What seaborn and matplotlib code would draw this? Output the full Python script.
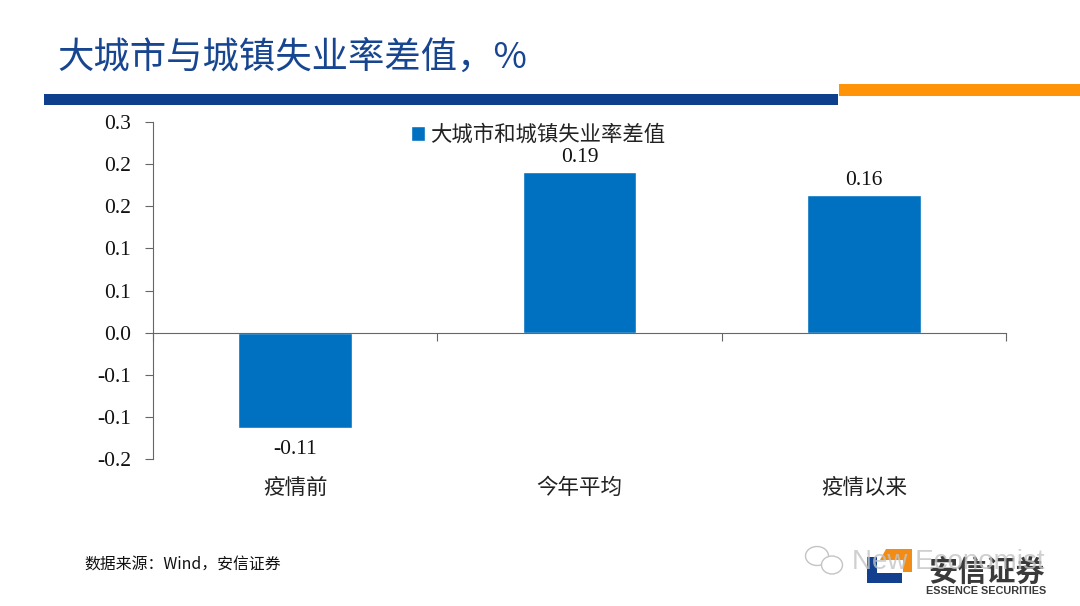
import matplotlib
matplotlib.use('Agg')
import matplotlib.pyplot as plt
from matplotlib.patches import Rectangle, Polygon, Ellipse
import pandas as pd
import seaborn as sns

categories = ['疫情前', '今年平均', '疫情以来']
values = [-0.113, 0.191, 0.163]
value_labels = ['-0.11', '0.19', '0.16']
y_ticks = [-0.15, -0.10, -0.05, 0.0, 0.05, 0.10, 0.15, 0.20, 0.25]
y_tick_labels = ['-0.2', '-0.1', '-0.1', '0.0', '0.1', '0.1', '0.2', '0.2', '0.3']
series_name = '大城市和城镇失业率差值'

sns.set_theme(style='white')
SERIF = ['Liberation Serif', 'Noto Sans CJK SC']
plt.rcParams['font.family'] = SERIF

W, H = 1080, 606
AXIS_COLOR = '#666666'
fig = plt.figure(figsize=(W / 100, H / 100), dpi=100)


def box(x0, y0, x1, y1):
    """Pixel box of the slide (y down) to figure fractions."""
    return [x0 / W, 1 - y1 / H, (x1 - x0) / W, (y1 - y0) / H]


def poly(points, color):
    """Polygon on the figure from slide pixel points."""
    xy = [(x / W, 1 - y / H) for x, y in points]
    fig.patches.append(Polygon(xy, transform=fig.transFigure, color=color, lw=0))


ax = fig.add_axes(box(153, 122, 1006, 459))
df = pd.DataFrame({'cat': categories, 'val': values})
sns.barplot(data=df, x='cat', y='val', color='#0070C0', saturation=1, width=0.4,
            ax=ax, label=series_name)

ax.set_xlim(-0.5, 2.5)
ax.set_ylim(-0.15, 0.25)
ax.set_xlabel('')
ax.set_ylabel('')
ax.set_yticks(y_ticks)
ax.set_yticklabels(y_tick_labels, fontsize=15.5, color='#111111')
ax.tick_params(axis='y', length=6, width=0.8, color=AXIS_COLOR, pad=10, left=True)

# axis runs through zero, ticks sit between the categories
for s in ['top', 'right']:
    ax.spines[s].set_visible(False)
ax.spines['left'].set_color(AXIS_COLOR)
ax.spines['left'].set_linewidth(0.8)
ax.spines['bottom'].set_position(('data', 0))
ax.spines['bottom'].set_color(AXIS_COLOR)
ax.spines['bottom'].set_linewidth(0.8)
ax.set_xticks([-0.5, 0.5, 1.5, 2.5])
ax.set_xticklabels([])
ax.tick_params(axis='x', bottom=True, length=6, width=0.8, color=AXIS_COLOR, direction='out')

for i, cat in enumerate(categories):
    ax.annotate(cat, (i, 0), xycoords=('data', 'axes fraction'), xytext=(0, -28.5),
                textcoords='offset points', ha='center', va='bottom', fontsize=15.5,
                color='#222222', family=['Noto Sans CJK SC'], weight='light')

for i, (v, lab) in enumerate(zip(values, value_labels)):
    off = 3.7 if v > 0 else -9
    ax.annotate(lab, (i, v), xytext=(0, off), textcoords='offset points', ha='center',
                va='bottom' if v > 0 else 'top', fontsize=15.5, color='#111111')

leg = ax.legend(loc='center', bbox_to_anchor=(0.4515, 0.961), frameon=False, fontsize=15.4,
                handlelength=0.65, handleheight=0.65, handletextpad=0.25, borderaxespad=0,
                borderpad=0)
for t in leg.get_texts():
    t.set_family(['Noto Sans CJK SC'])
    t.set_color('#222222')
    t.set_weight('light')

# slide furniture
fig.patches.append(Rectangle((44 / W, 1 - 105 / H), 794 / W, 11 / H, transform=fig.transFigure,
                             color='#0D3F8C', lw=0))
fig.patches.append(Rectangle((839 / W, 1 - 96 / H), 241 / W, 12 / H, transform=fig.transFigure,
                             color='#FF9408', lw=0))
fig.text(57 / W, 1 - 58 / H, '大城市与城镇失业率差值，%', fontsize=26.2, color='#17458F',
         family=['Noto Sans CJK SC'], va='center')
fig.text(84 / W, 1 - 565 / H, '数据来源：Wind，安信证券', fontsize=11.4, color='#111111',
         family=['Noto Sans CJK SC'], va='center')

# logo
poly([(867, 557), (867, 583), (902, 583), (902, 573), (877, 573), (877, 557)], '#12408F')
poly([(886, 549), (912, 549), (912, 572), (903, 572), (903, 560), (880, 560)], '#F28C14')
fig.text(987 / W, 1 - 572 / H, '安信证券', fontsize=21, color='#3A3A3A', ha='center', va='center',
         family=['Noto Sans CJK SC'], weight='bold')
fig.text(986.5 / W, 1 - 591.5 / H, 'ESSENCE SECURITIES', fontsize=7.8, color='#3A3A3A', ha='center',
         va='center', family=['Liberation Sans'], weight='bold')

# wechat watermark
for cx, cy, w, h in [(817, 556, 23, 19), (832, 565, 21, 18)]:
    fig.patches.append(Ellipse((cx / W, 1 - cy / H), w / W, h / H, transform=fig.transFigure,
                               facecolor='white', edgecolor='#C4C4C4', lw=1))
fig.text(852 / W, 1 - 562 / H, 'New Economist', fontsize=20, color='#C4C4C4', alpha=0.8,
         va='center', family=['Liberation Sans'])

fig.savefig('out.png', dpi=100, facecolor='white')
